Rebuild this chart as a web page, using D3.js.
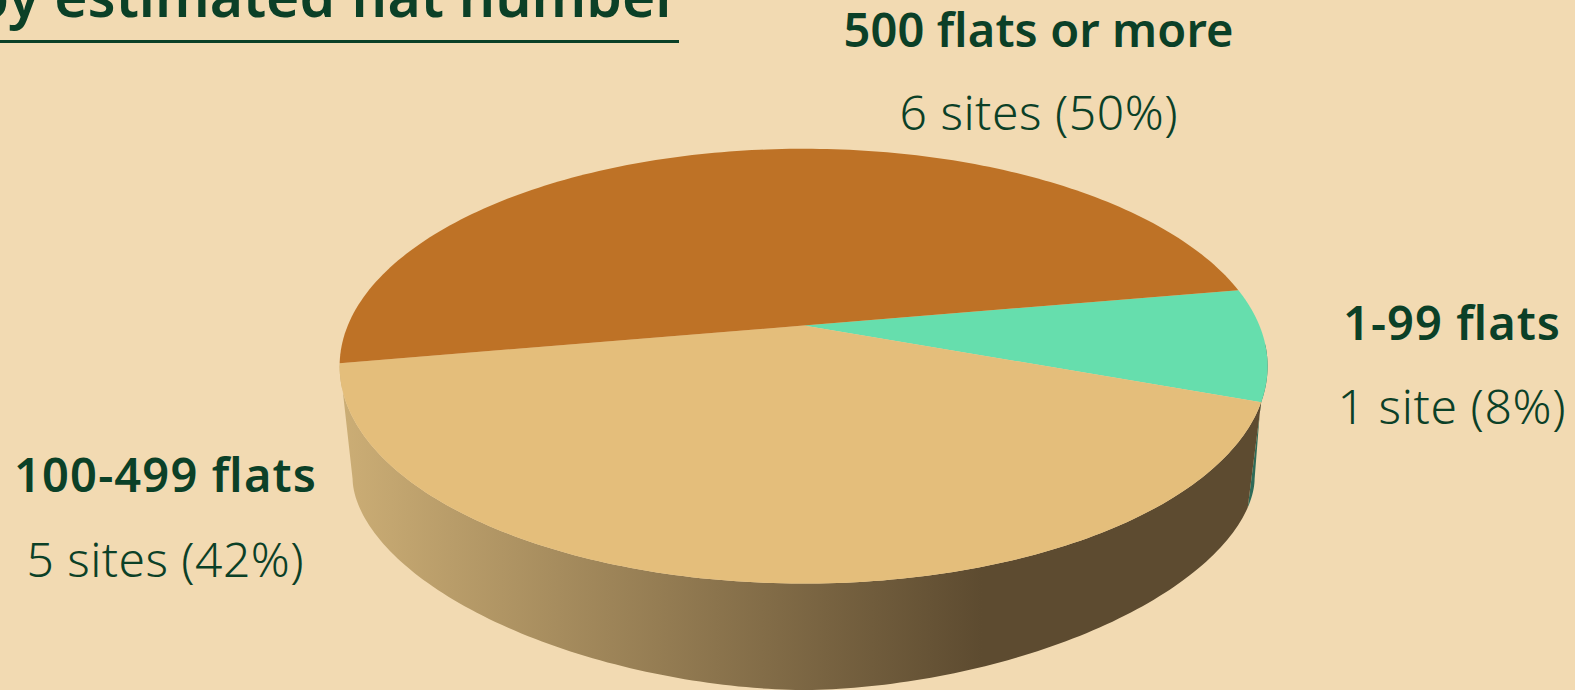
<!DOCTYPE html>
<html>
<head>
<meta charset="utf-8">
<script src="https://cdn.jsdelivr.net/npm/d3@7"></script>
<style>
  html, body { margin: 0; padding: 0; background: #F2DAB2; overflow: hidden; }
  text { font-family: "Noto Sans", "Open Sans", sans-serif; fill: #0B4027; }
</style>
</head>
<body>
<svg id="chart" width="1575" height="690"></svg>
<script>
// Housing sites grouped by estimated flat number
const categories = ["1-99 flats", "100-499 flats", "500 flats or more"];
const siteCounts = [1, 5, 6];
const shareLabels = ["1 site (8%)", "5 sites (42%)", "6 sites (50%)"];
const topColours = ["#66DEAD", "#E4BE7B", "#BE7226"];
const titleText = "by estimated flat number";

const svg = d3.select("#chart");

// Perspective model of the disc: the centre of the pie sits above the centre of its ellipse
const apex = { x: 803.6, y: 325.5 };
const spreadX = 455.8, spreadY = 209.8, tilt = -0.187;

function projectTop(angle) {
  const sx = Math.sin(angle), sy = -Math.cos(angle);   // d3.pie angles: 0 at 12 o'clock, clockwise
  const w = 1 + tilt * sy;
  return [apex.x + spreadX * sx / w, apex.y + spreadY * sy / w];
}

// Lower rim of the wall: a slightly squared ellipse, narrower than the top face
const rim = { x: 803.6, y: 479, rx: 451, ry: 211, power: 2 / 1.8 };
const rimAngle = d3.scaleLinear().domain([110, 260]).range([9.5, 180]);
const signedPow = (v, p) => Math.sign(v) * Math.pow(Math.abs(v), p);

function projectRim(angle) {
  const t = rimAngle(angle * 180 / Math.PI) * Math.PI / 180;
  return [rim.x + rim.rx * signedPow(Math.cos(t), rim.power),
          rim.y + rim.ry * signedPow(Math.sin(t), rim.power)];
}

const rad = d => d * Math.PI / 180;
const pie = d3.pie().sort(null).startAngle(rad(80)).endAngle(rad(440));
const slices = pie(siteCounts);

const steps = (a, b) => d3.range(0, 161).map(i => a + (b - a) * i / 160);
const line = d3.line();

const defs = svg.append("defs");
const wallTan = defs.append("linearGradient").attr("id", "wallTan")
  .attr("gradientUnits", "userSpaceOnUse")
  .attr("x1", 345).attr("x2", 982).attr("y1", 0).attr("y2", 0);
wallTan.append("stop").attr("offset", 0).attr("stop-color", "#CBAD75");
wallTan.append("stop").attr("offset", 1).attr("stop-color", "#5D4B30");

// Side walls: only the two slices facing the viewer show one
const wallFills = ["#2F6B58", "url(#wallTan)"];
const wallTopFrom = [rad(95), slices[1].startAngle];
const wallRimFrom = [rad(101.6), slices[1].startAngle];
[0, 1].forEach(i => {
  const s = slices[i];
  const topArc = steps(wallTopFrom[i], s.endAngle).map(projectTop);
  const rimArc = steps(wallRimFrom[i], s.endAngle).map(projectRim);
  svg.append("path").attr("d", line(topArc.concat(rimArc.reverse())) + "Z").attr("fill", wallFills[i]);
});

// Top face of every slice
svg.selectAll("path.top")
  .data(slices)
  .join("path")
  .attr("class", "top")
  .attr("fill", (d, i) => topColours[i])
  .attr("d", d => line([[apex.x, apex.y]].concat(steps(d.startAngle, d.endAngle).map(projectTop))) + "Z");

// Slice labels: name above, count and share below, each set to a fixed run length
const labelSpots = [
  { x: 1451.5, y1: 340, y2: 424, w1: 217, w2: 228 },
  { x: 165, y1: 492, y2: 577, w1: 302, w2: 277 },
  { x: 1038.5, y1: 47, y2: 130, w1: 390, w2: 278 }
];
const labels = svg.selectAll("g.label").data(categories).join("g").attr("class", "label");
labels.append("text")
  .attr("x", (d, i) => labelSpots[i].x).attr("y", (d, i) => labelSpots[i].y1)
  .attr("text-anchor", "middle").attr("font-size", 47).attr("font-weight", 600)
  .attr("textLength", (d, i) => labelSpots[i].w1)
  .text(d => d);
labels.append("text")
  .attr("x", (d, i) => labelSpots[i].x).attr("y", (d, i) => labelSpots[i].y2)
  .attr("text-anchor", "middle").attr("font-size", 48).attr("font-weight", 300)
  .attr("textLength", (d, i) => labelSpots[i].w2)
  .text((d, i) => shareLabels[i]);

// Heading, running off the top of the page, with its rule
svg.append("text").attr("x", 680).attr("y", 17)
  .attr("text-anchor", "end").attr("font-size", 57).attr("font-weight", 600)
  .text(titleText);
svg.append("line").attr("x1", 0).attr("x2", 679).attr("y1", 41.5).attr("y2", 41.5)
  .attr("stroke", "#0B4027").attr("stroke-width", 3);
</script>
</body>
</html>
